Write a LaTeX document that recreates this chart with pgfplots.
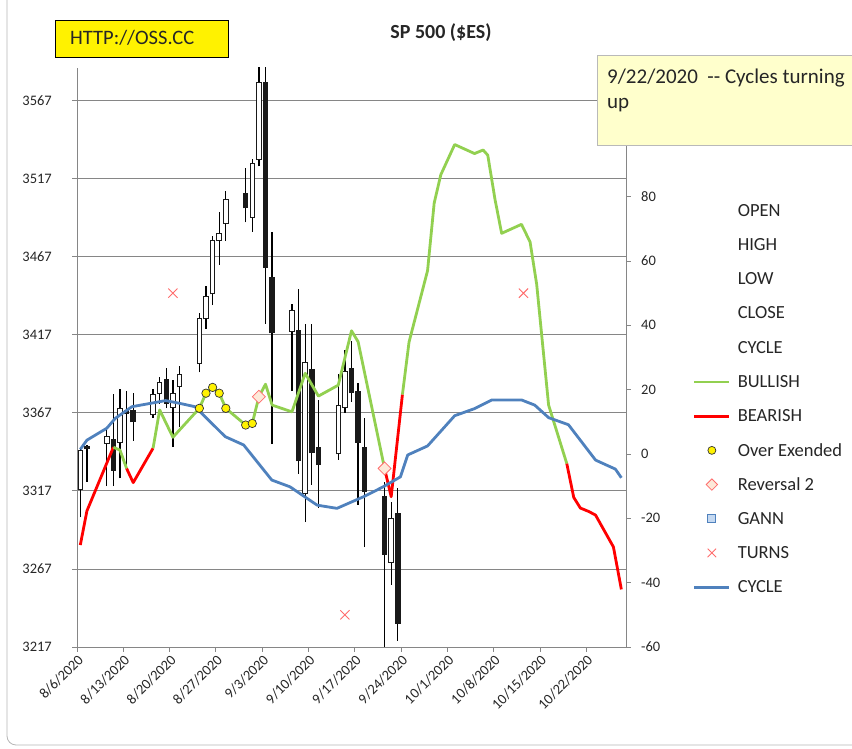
\documentclass[border=0pt]{standalone}
\usepackage{pgfplots}
\pgfplotsset{compat=1.18}
\usepackage{pgfplotstable}
\usepackage{fontspec}
\setmainfont{Carlito}
\definecolor{bull}{HTML}{92D050}
\definecolor{bear}{HTML}{FF0000}
\definecolor{cyc}{HTML}{4F81BD}
\definecolor{axgray}{HTML}{868686}
\definecolor{revfill}{HTML}{FDE9D9}
\definecolor{revdraw}{HTML}{FF6B6B}
\definecolor{turn}{HTML}{FF6B6B}
\definecolor{notefill}{HTML}{FFFFCC}
\definecolor{gannfill}{HTML}{C5D9F1}
\definecolor{txt}{HTML}{262626}

% day index d = days since 8/6/2020
\pgfplotstableread{
d O H L C
0 3317.5 3344 3300 3343
1 3345.6 3346.5 3323 3343.7
4 3347.3 3357 3320 3352
5 3350 3379 3320 3330
6 3348 3382.5 3325 3370
7 3369 3381 3332 3366
8 3369 3380 3349 3361
11 3365.4 3382.5 3364 3379.3
12 3379 3390 3373 3387
13 3389 3396 3370 3373
14 3370 3388 3345 3380
15 3383.5 3397 3358 3392
18 3398.5 3431 3393 3428
19 3427 3448 3421 3442
20 3443 3480.5 3436 3478
21 3477 3496 3462 3482
22 3488 3509 3477 3504
25 3508 3524 3489 3498
26 3492 3530 3483 3527
27 3529 3592 3525 3579
28 3579 3592 3424 3460
29 3454 3483 3347 3418
32 3419 3437 3381 3433
33 3420 3446.5 3328 3336
34 3315 3424 3297 3399.5
35 3395 3424 3321 3341
36 3345 3375 3306 3333.5
39 3340.5 3392 3337 3372
40 3370 3407 3367 3394
41 3395.5 3413 3374 3379.5
42 3381 3386 3308 3348
43 3345 3363.5 3281 3316
46 3314 3323 3210 3276
47 3271 3310 3257 3299.5
48 3303 3319 3221 3232
}\candles

\pgfplotsset{
  chartframe/.style={
    at={(77pt,102pt)}, anchor=south west, scale only axis, width=549pt, height=579pt,
    xmin=-0.5, xmax=82.5,
    axis line style={axgray, line width=0.9pt, -},
    tick style={axgray, line width=0.9pt},
    tick align=outside, major tick length=5pt,
    /pgf/number format/1000 sep={}, /pgf/number format/assume math mode=true,
  },
  candlebar/.style={draw=none, mark=none, forget plot,
    error bars/.cd, y dir=plus, y explicit, error mark=none},
}

\begin{document}
\begin{tikzpicture}
\path[use as bounding box] (0pt,0pt) rectangle (852pt,749pt);
\draw[axgray!60, line width=0.8pt, rounded corners=9pt] (7pt,749pt) -- (7pt,4pt) -- (852pt,4pt);

\begin{axis}[chartframe, name=main,
  ymin=3217, ymax=3588,
  axis x line*=bottom, axis y line*=left,
  ytick={3217,3267,...,3567},
  ymajorgrids, grid style={axgray, line width=0.9pt},
  xtick={-0.5,6.5,...,76.5},
  xticklabels={8/6/2020,8/13/2020,8/20/2020,8/27/2020,9/3/2020,9/10/2020,9/17/2020,9/24/2020,10/1/2020,10/8/2020,10/15/2020,10/22/2020},
  x tick label style={rotate=45, anchor=north east, font=\fontsize{14.5}{16}\selectfont, text=txt, inner sep=1pt},
  y tick label style={font=\fontsize{14.5}{16}\selectfont, text=txt, anchor=east, inner sep=0pt, xshift=-20pt},
]
% wicks
\addplot[candlebar, error bar style={draw=black, solid, line width=1.3pt}]
  table[x=d, y=L, y error expr=\thisrow{H}-\thisrow{L}] {\candles};
% bodies
\addplot[candlebar, error bar style={draw=black!90, solid, line width=5.5pt}]
  table[x=d, y expr={min(\thisrow{O},\thisrow{C})}, y error expr={max(abs(\thisrow{C}-\thisrow{O}),0.8)}] {\candles};
% hollow interior of up candles
\addplot[candlebar, error bar style={draw=white, solid, line width=3.5pt}]
  table[x=d, y expr={\thisrow{O}+0.65}, y error expr={max(\thisrow{C}-\thisrow{O}-1.3,0)}] {\candles};
\end{axis}

\begin{axis}[chartframe,
  ymin=-60, ymax=120,
  axis x line=none, axis y line*=right,
  ytick={-60,-40,...,100},
  y tick label style={font=\fontsize{14.5}{16}\selectfont, text=txt, anchor=west, inner sep=0pt, xshift=10pt},
  legend image code/.code={\draw[mark repeat=2,mark phase=2,#1] plot coordinates {(0pt,0pt) (17.5pt,0pt) (35pt,0pt)};},
  legend style={at={(1.122,0.7826)}, anchor=north west, draw=none, fill=none,
    inner sep=0pt, outer sep=0pt, row sep=0pt, column sep=7pt,
    nodes={inner sep=0pt, minimum height=34.2pt, text=txt},
    font=\fontsize{18.5}{20}\selectfont},
  legend cell align=left,
]
\addplot[bear, line width=2.8pt, line join=round, forget plot] coordinates {(0,-28.3) (1,-17.7) (5,2.1)};
\addplot[bull, line width=2.8pt, line join=round, forget plot] coordinates {(5,2.1) (6,1.2) (7,-4.5)};
\addplot[bear, line width=2.8pt, line join=round, forget plot] coordinates {(7,-4.5) (8,-8.9) (11,1.8)};
\addplot[bull, line width=2.8pt, line join=round, forget plot] coordinates {
(11,1.8) (12,13.7) (14,5.2) (18,14.2) (19,18.9) (20,20.7) (21,18.9) (22,14.2) (25,9.0) (26,9.5)
(27,17.8) (28,21.7) (29,15.2) (32,13.1) (34,25.1) (36,18.0) (39,21.4) (41,38.3) (42,34.9) (46,-4.5)};
\addplot[bear, line width=2.8pt, line join=round, forget plot] coordinates {(46,-4.5) (47,-13.3) (48.7,18.5)};
\addplot[bull, line width=2.8pt, line join=round, forget plot] coordinates {
(48.7,18.5) (49.7,34.8) (52.5,57.0) (53.5,78.0) (54.5,86.8) (56.6,96.2) (59.6,93.4) (60.9,94.5) (61.6,92.9)
(62.7,79.1) (63.7,68.6) (66.7,71.4) (68,65.9) (69,52.7) (70.8,15.2) (73.55,-3.0)};
\addplot[bear, line width=2.8pt, line join=round, forget plot] coordinates {
(73.55,-3.0) (74.6,-13.5) (75.6,-16.8) (76.9,-17.9) (77.9,-19.0) (79.4,-24.5) (80.6,-28.9) (81.8,-42.1)};
\addplot[cyc, line width=2.8pt, line join=round, forget plot] coordinates {
(0,1.45) (1,4.3) (4,8.0) (5.3,11.1) (7.8,14.7) (12.9,16.6) (14.9,15.8) (17.35,14.7) (21.9,5.4) (24.7,2.8)
(28.95,-8.1) (31.7,-10.2) (35.8,-15.9) (38.8,-16.9) (42.8,-13.3) (45.8,-10.2) (48.4,-7.1) (49.5,-0.3)
(52.5,2.5) (56.6,11.9) (59.6,14.1) (62.2,16.8) (66.7,16.8) (68.7,15.2) (70.8,11.3) (73.8,9.1)
(77.9,-1.9) (80.9,-4.7) (81.8,-7.4)};
\addplot[only marks, mark=*, mark size=4.2pt, mark options={fill=yellow, draw=black!80, line width=0.7pt}, forget plot]
  coordinates {(18,14.2) (19,18.9) (20,20.7) (21,18.9) (22,14.2) (25,9.0) (26,9.5)};
\addplot[only marks, mark=square*, mark size=4.6pt, mark options={rotate=45, fill=revfill, draw=revdraw, line width=0.8pt}, forget plot]
  coordinates {(27,17.8) (46,-4.5)};
\addplot[only marks, mark=x, mark size=6.5pt, mark options={draw=turn, line width=0.9pt}, forget plot]
  coordinates {(14,50) (40,-50) (67,50)};

\addlegendimage{empty legend}\addlegendentry{OPEN}
\addlegendimage{empty legend}\addlegendentry{HIGH}
\addlegendimage{empty legend}\addlegendentry{LOW}
\addlegendimage{empty legend}\addlegendentry{CLOSE}
\addlegendimage{empty legend}\addlegendentry{CYCLE}
\addlegendimage{bull, line width=2.8pt}\addlegendentry{BULLISH}
\addlegendimage{bear, line width=2.8pt}\addlegendentry{BEARISH}
\addlegendimage{only marks, mark=*, mark size=4pt, mark options={fill=yellow, draw=black!80, line width=0.7pt}}\addlegendentry{Over Exended}
\addlegendimage{only marks, mark=square*, mark size=4pt, mark options={rotate=45, fill=revfill, draw=revdraw, line width=0.8pt}}\addlegendentry{Reversal 2}
\addlegendimage{only marks, mark=square*, mark size=4pt, mark options={fill=gannfill, draw=cyc, line width=0.8pt}}\addlegendentry{GANN}
\addlegendimage{only marks, mark=x, mark size=6pt, mark options={draw=turn, line width=0.9pt}}\addlegendentry{TURNS}
\addlegendimage{cyc, line width=2.8pt}\addlegendentry{CYCLE}
\end{axis}

\node[anchor=base, font=\bfseries\fontsize{20}{24}\selectfont, text=txt] at (441pt,710pt) {SP 500 (\$ES)};
\draw[black, fill=yellow, line width=0.8pt] (55pt,692pt) rectangle (228pt,729pt);
\node[anchor=base west, inner sep=0pt, font=\fontsize{20.5}{24}\selectfont, text=txt] at (70pt,704pt) {HTTP://OSS.CC};
\draw[gray!55, fill=notefill, line width=0.8pt] (597pt,604pt) rectangle (852pt,694pt);
\node[anchor=base west, inner sep=0pt, font=\fontsize{21}{25}\selectfont, text=txt] at (607pt,665pt) {9/22/2020\ \ -{}- Cycles turning};
\node[anchor=base west, inner sep=0pt, font=\fontsize{21}{25}\selectfont, text=txt] at (607pt,640pt) {up};
\end{tikzpicture}
\end{document}
